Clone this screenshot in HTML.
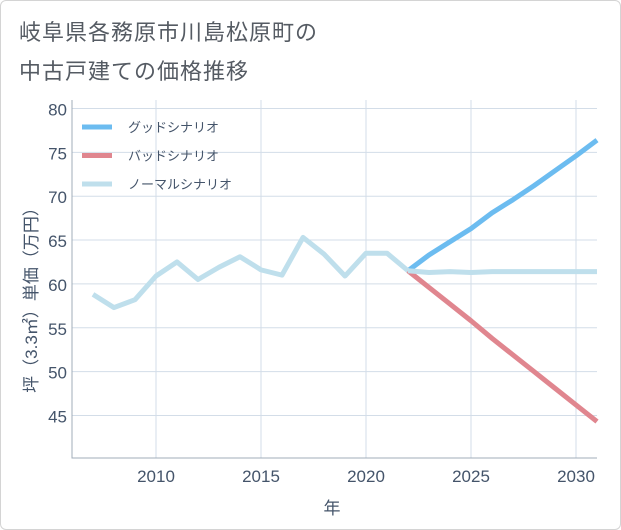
<!DOCTYPE html>
<html><head><meta charset="utf-8"><style>
body{margin:0;background:#fff;}
#wrap{position:relative;width:619px;height:528px;border:1px solid #d4d4d4;border-radius:6px;overflow:hidden;font-family:"Liberation Sans","Noto Sans CJK JP",sans-serif;}
.title{position:absolute;left:18px;font-size:22px;color:#555b63;letter-spacing:1px;}
</style></head><body>
<div id="wrap">
<div class="title" style="top:14px">岐阜県各務原市川島松原町の</div>
<div class="title" style="top:53px">中古戸建ての価格推移</div>
<svg id="chart" width="621" height="530" style="position:absolute;left:-1px;top:-1px"></svg>
</div>
<script>
const histYears=[2007,2008,2009,2010,2011,2012,2013,2014,2015,2016,2017,2018,2019,2020,2021,2022];
const histValues=[58.8,57.3,58.2,60.9,62.5,60.5,61.9,63.1,61.6,61.0,65.3,63.4,60.9,63.5,63.5,61.5];
const projYears=[2022,2023,2024,2025,2026,2027,2028,2029,2030,2031];
const goodValues=[61.5,63.3,64.8,66.3,68.1,69.6,71.2,72.9,74.6,76.4];
const badValues=[61.5,59.6,57.7,55.8,53.8,51.9,50.0,48.1,46.2,44.3];
const normalValues=[61.5,61.3,61.4,61.3,61.4,61.4,61.4,61.4,61.4,61.4];
const yTicks=[45,50,55,60,65,70,75,80];
const xTicks=[2010,2015,2020,2025,2030];
const NS='http://www.w3.org/2000/svg';
const svg=document.getElementById('chart');
const L=72,R=597,T=100,B=458;
const X=y=>156+(y-2010)*21;
const Y=v=>108.5+(80-v)*8.77;
function mk(t,a){const e=document.createElementNS(NS,t);for(const k in a)e.setAttribute(k,a[k]);svg.appendChild(e);return e;}
xTicks.forEach(t=>{
 const g=mk('line',{x1:X(t),x2:X(t),y1:T,y2:B,stroke:'#d3dde8','stroke-width':1});
 
 
 const l=mk('text',{x:X(t),y:482,'text-anchor':'middle','font-size':17,fill:'#44546a'});
 l.textContent=t;
 
 
});
yTicks.forEach(t=>{
 const g=mk('line',{x1:L,x2:R,y1:Y(t),y2:Y(t),stroke:'#d3dde8','stroke-width':1});
 
 
 const l=mk('text',{x:67,y:Y(t)+7,'text-anchor':'end','font-size':17,fill:'#44546a'});
 l.textContent=t;
 
 
});
const ax=mk('path',{d:`M${L},${T}V${B}H${R}`,fill:'none',stroke:'#a0acb8','stroke-width':1});


function line(xs,vs,c,n){const p=mk('polyline',{points:xs.map((x,i)=>X(x)+','+Y(vs[i])).join(' '),fill:'none',stroke:c,'stroke-width':5,'stroke-linejoin':'round'});
 
 }
line(projYears,goodValues,'#6cbcf0','good-scenario-line');
line(projYears,badValues,'#e0868f','bad-scenario-line');
line(histYears,histValues,'#bfdfec','historical-line');
line(projYears,normalValues,'#bfdfec','normal-scenario-line');
const leg=[['グッドシナリオ','#6cbcf0'],['バッドシナリオ','#e0868f'],['ノーマルシナリオ','#bfdfec']];
leg.forEach((d,i)=>{const y=127+i*28.5;
 const s=mk('line',{x1:82,x2:112,y1:y,y2:y,stroke:d[1],'stroke-width':5});
 
 
 const t=mk('text',{x:128,y:y+5,'font-size':13,fill:'#44546a'});t.textContent=d[0];
 
 
});
const xt=mk('text',{x:332,y:514,'text-anchor':'middle','font-size':17,fill:'#44546a'});xt.textContent='年';


const yt=mk('text',{x:0,y:0,'text-anchor':'middle','font-size':17,fill:'#44546a',transform:'translate(37,296) rotate(-90)'});yt.textContent='坪（3.3㎡）単価（万円）';


</script>
</body></html>
